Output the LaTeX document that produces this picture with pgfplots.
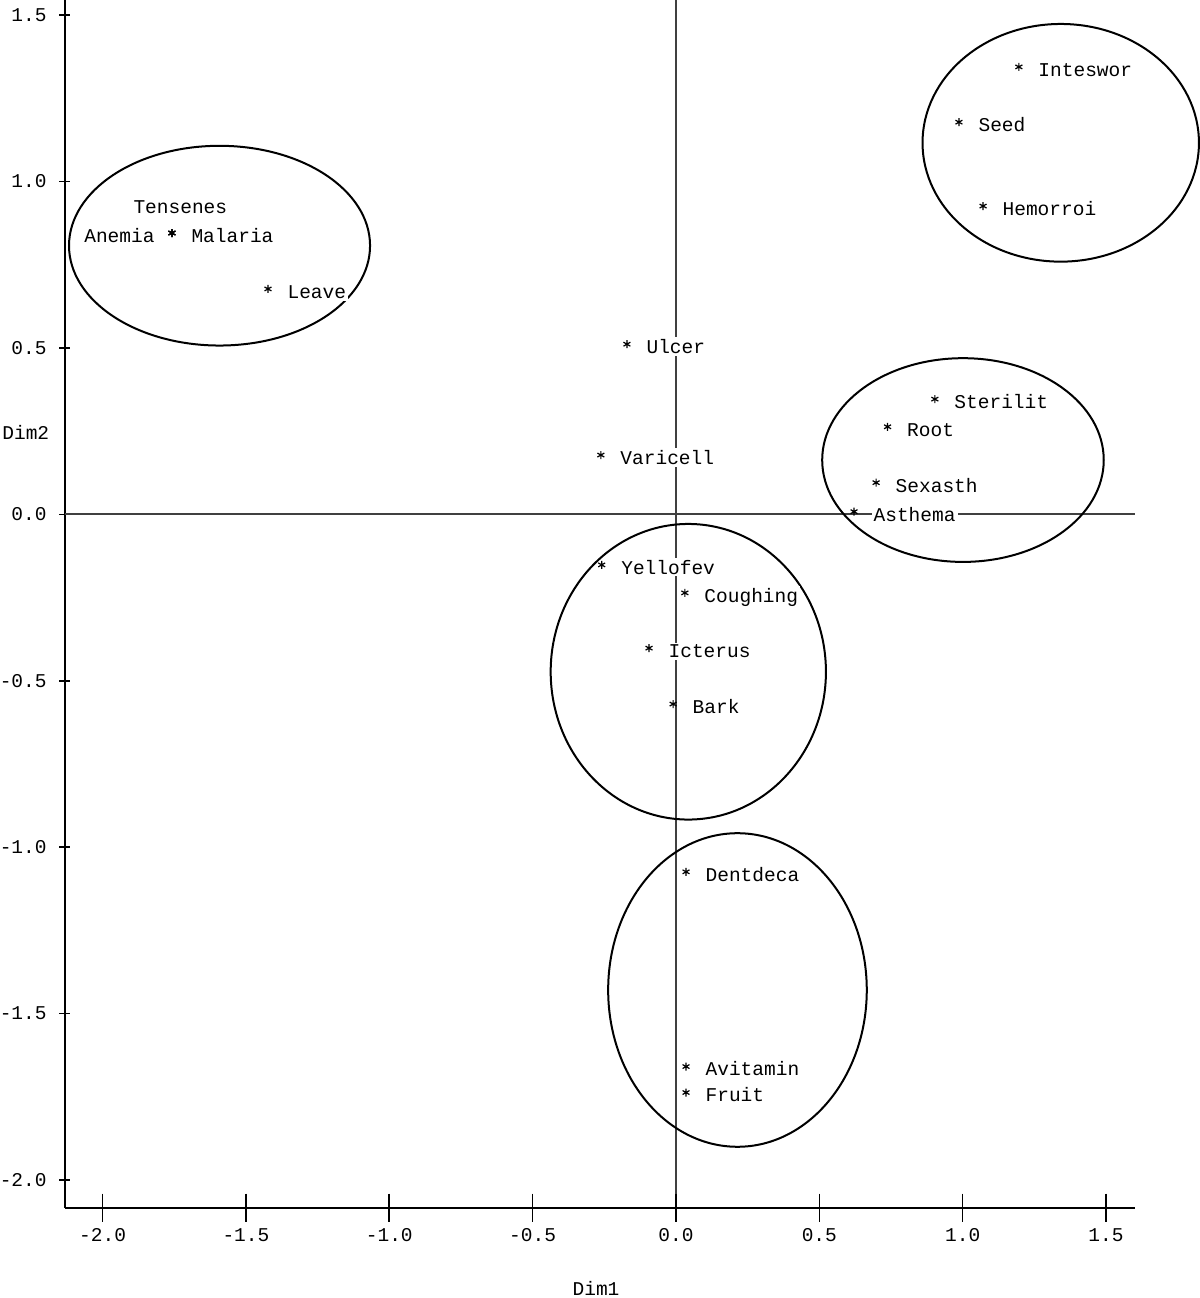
\documentclass[border=0pt]{standalone}
\usepackage{pgfplots}
\pgfplotsset{compat=1.18}
\usepackage{pgfplotstable}
\usepackage{fontspec}
\setmainfont{Liberation Mono}

% x y : position of the point; dx dy : shift of its label (pt)
\pgfplotstableread{
x y dx dy label
-1.758 0.845 8.5 -4.7 Malaria
-1.758 0.845 -45.1 -4.7 Anemia
-1.758 0.845 -20.5 10.0 Tensenes
-1.423 0.677 8.5 -4.7 Leave
-0.171 0.511 8.5 -4.7 Ulcer
-0.262 0.178 8.5 -4.7 Varicell
-0.259 -0.152 8.5 -4.7 Yellofev
0.031 -0.236 8.5 -4.7 Coughing
-0.094 -0.402 8.5 -4.7 Icterus
-0.010 -0.570 8.5 -4.7 Bark
0.035 -1.074 8.5 -4.7 Dentdeca
0.035 -1.659 8.5 -4.7 Avitamin
0.035 -1.737 8.5 -4.7 Fruit
1.196 1.344 8.5 -4.7 Inteswor
0.987 1.178 8.5 -4.7 Seed
1.071 0.926 8.5 -4.7 Hemorroi
0.903 0.346 8.5 -4.7 Sterilit
0.738 0.263 8.5 -4.7 Root
0.698 0.095 8.5 -4.7 Sexasth
0.621 0.008 8.5 -4.7 Asthema
}\coords

\begin{document}
\fontsize{9.75}{11.7}\selectfont
\begin{tikzpicture}
\useasboundingbox (-32.5pt,-45.15pt) rectangle (567.5pt,603.85pt);
\begin{axis}[
  at={(0,0)}, anchor=south west,
  scale only axis, width=535pt, height=603.85pt,
  xmin=-2.131, xmax=1.601, ymin=-2.083, ymax=1.545,
  axis x line=bottom, axis y line=left,
  axis line style={line width=1pt, -},
  xtick={-2,-1.5,-1,-0.5,0,0.5,1,1.5},
  ytick={-2,-1.5,-1,-0.5,0,0.5,1,1.5},
  tick align=center, major tick length=5.5pt,
  xtick style={draw=none},
  ytick style={line width=0.8pt, black},
  /pgf/number format/.cd, fixed, fixed zerofill, precision=1, assume math mode=true,
  /pgfplots/.cd,
  xticklabel style={anchor=north, yshift=-4pt, text height=6.5pt},
  yticklabel style={anchor=east, xshift=-3pt},
  xlabel={Dim1}, ylabel={Dim2},
  every axis x label/.style={at={(axis description cs:0.4963,0)}, anchor=center, yshift=-40.15pt, inner sep=0pt},
  every axis y label/.style={at={(axis description cs:0,0.6423)}, anchor=west, xshift=-31.5pt, inner sep=0pt},
  clip=false,
]
\draw[black!75, line width=0.9pt] (axis cs:0,-2.083) -- (axis cs:0,1.545);
\draw[black!75, line width=0.9pt] (axis cs:-2.131,0) -- (axis cs:1.601,0);

\addplot[only marks, mark=asterisk, mark size=2pt, mark options={line width=0.6pt, black},
  point meta=explicit symbolic,
  visualization depends on={\thisrow{dx} \as \dx},
  visualization depends on={\thisrow{dy} \as \dy},
  nodes near coords,
  every node near coord/.append style={anchor=base west, xshift=\dx pt, yshift=\dy pt,
    fill=white, inner sep=1pt, text=black},
] table[x=x, y=y, meta=label] {\coords};

\pgfplotsinvokeforeach{-2,-1.5,-1,-0.5,0,0.5,1,1.5}{
  \draw[line width=0.8pt] (axis cs:#1,-2.083) ++(0pt,7pt) -- ++(0pt,-14pt);
}

\draw[line width=1pt] (axis cs:-1.592,0.807) ellipse [x radius=0.525, y radius=0.300];
\draw[line width=1pt] (axis cs:1.342,1.116) ellipse [x radius=0.482, y radius=0.357];
\draw[line width=1pt] (axis cs:1.001,0.163) ellipse [x radius=0.491, y radius=0.306];
\draw[line width=1pt] (axis cs:0.043,-0.473) ellipse [x radius=0.480, y radius=0.444];
\draw[line width=1pt] (axis cs:0.2145,-1.429) ellipse [x radius=0.451, y radius=0.471];
\end{axis}
\end{tikzpicture}
\end{document}
